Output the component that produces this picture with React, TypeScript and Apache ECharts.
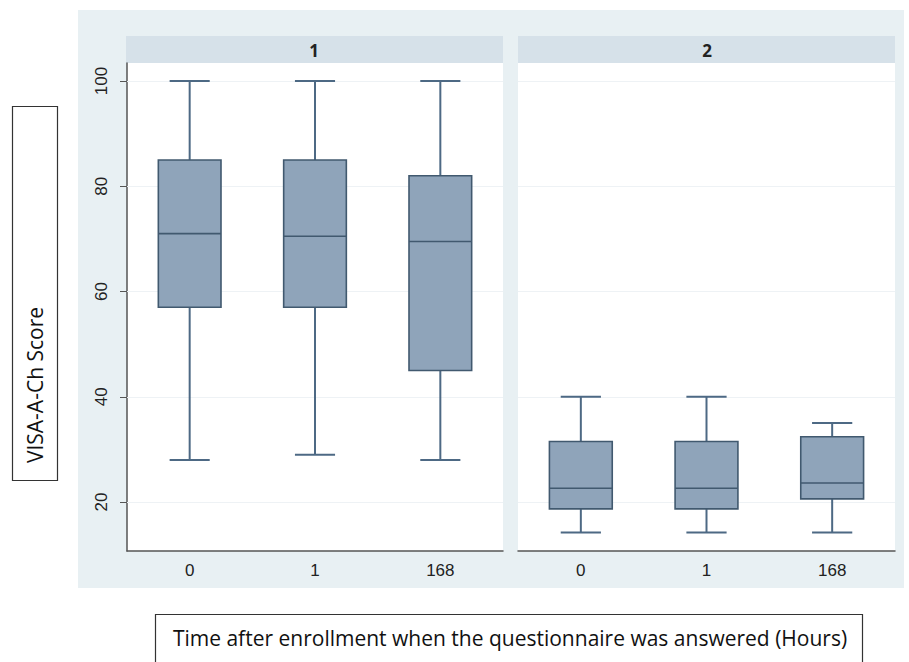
import React, { useEffect, useRef } from "react";
import * as echarts from "echarts";

const categories = ["0", "1", "168"];
const panelLabels = ["1", "2"];
const yTicks = [20, 40, 60, 80, 100];
// [categoryIndex, lowerWhisker, Q1, median, Q3, upperWhisker]
const panel1Boxes = [
  [0, 28, 57, 71, 85, 100],
  [1, 29, 57, 70.5, 85, 100],
  [2, 28, 45, 69.5, 82, 100],
];
const panel2Boxes = [
  [0, 14.2, 18.7, 22.6, 31.5, 40],
  [1, 14.2, 18.7, 22.6, 31.5, 40],
  [2, 14.2, 20.6, 23.6, 32.4, 35],
];
const yTitle = "VISA-A-Ch Score";
const xTitle = "Time after enrollment when the questionnaire was answered (Hours)";

const FILL = "#8fa4ba";
const BORDER = "#41596f";
const WHISK = "#4d6984";

function renderBox(params: any, api: any) {
  const c = api.value(0);
  const lo = api.coord([c, api.value(1)]);
  const q1 = api.coord([c, api.value(2)]);
  const md = api.coord([c, api.value(3)]);
  const q3 = api.coord([c, api.value(4)]);
  const hi = api.coord([c, api.value(5)]);
  const band = api.size([1, 0])[0];
  const bw = band * 0.5;
  const cw = band * 0.32;
  const cx = lo[0];
  const ls = { stroke: WHISK, lineWidth: 2 };
  return {
    type: "group",
    children: [
      { type: "line", shape: { x1: cx, y1: hi[1], x2: cx, y2: q3[1] }, style: ls },
      { type: "line", shape: { x1: cx, y1: q1[1], x2: cx, y2: lo[1] }, style: ls },
      { type: "line", shape: { x1: cx - cw / 2, y1: hi[1], x2: cx + cw / 2, y2: hi[1] }, style: ls },
      { type: "line", shape: { x1: cx - cw / 2, y1: lo[1], x2: cx + cw / 2, y2: lo[1] }, style: ls },
      {
        type: "rect",
        shape: { x: cx - bw / 2, y: q3[1], width: bw, height: q1[1] - q3[1] },
        style: { fill: FILL, stroke: BORDER, lineWidth: 1.6 },
      },
      { type: "line", shape: { x1: cx - bw / 2, y1: md[1], x2: cx + bw / 2, y2: md[1] }, style: { stroke: BORDER, lineWidth: 1.6 } },
    ],
  };
}

export default function App() {
  const ref = useRef<HTMLDivElement>(null);
  useEffect(() => {
    document.body.style.margin = "0";
    const chart = echarts.init(ref.current!, null, { renderer: "svg" });
    const yMin = 10.69;
    const yMax = 103.42;
    const grids = [
      { left: 127, top: 63, width: 376, height: 488 },
      { left: 518, top: 63, width: 377, height: 488 },
    ];
    const gridLines = {
      silent: true,
      symbol: "none",
      z: 1,
      label: { show: false },
      lineStyle: { color: "#eef2f5", width: 1, type: "solid" },
      data: yTicks.map((v) => ({ yAxis: v })),
    };
    const labelFont = { fontSize: 17, color: "#222", fontFamily: "Liberation Sans, Arial" };
    const stripText = (x: number, t: string) => ({
      type: "text",
      x,
      y: 50,
      style: { text: t, fontSize: 17, fontWeight: 700, fill: "#222", fontFamily: "Open Sans", align: "center", verticalAlign: "middle" },
    });
    const option: any = {
      animation: false,
      backgroundColor: "#ffffff",
      grid: grids.map((g) => ({ ...g, show: true, backgroundColor: "#ffffff", borderWidth: 0 })),
      xAxis: [0, 1].map((i) => ({
        type: "category",
        gridIndex: i,
        data: categories,
        axisLine: { show: true, lineStyle: { color: "#555", width: 1.5 } },
        axisTick: { show: false },
        axisLabel: { ...labelFont, margin: 11 },
        splitLine: { show: false },
      })),
      yAxis: [0, 1].map((i) => ({
        type: "value",
        gridIndex: i,
        min: yMin,
        max: yMax,
        show: i === 0,
        axisLine: { show: i === 0, lineStyle: { color: "#555", width: 1.5 } },
        axisTick: { show: true, customValues: yTicks, length: 7, lineStyle: { color: "#555" } },
        axisLabel: {
          show: i === 0,
          customValues: yTicks,
          rotate: 90,
          ...labelFont,
          margin: 17,
        },
        splitLine: { show: false },
      })),
      graphic: [
        { type: "rect", z: -10, shape: { x: 78, y: 10, width: 826, height: 578 }, style: { fill: "#e8f0f3" } },
        { type: "rect", z: -5, shape: { x: 126, y: 36, width: 377, height: 27 }, style: { fill: "#d6e1e9" } },
        { type: "rect", z: -5, shape: { x: 518, y: 36, width: 377, height: 27 }, style: { fill: "#d6e1e9" } },
        stripText(314, panelLabels[0]),
        stripText(707, panelLabels[1]),
        { type: "rect", shape: { x: 12.5, y: 106.5, width: 45, height: 374 }, style: { fill: "#fff", stroke: "#333", lineWidth: 1.2 } },
        {
          type: "text",
          x: 35,
          y: 385,
          rotation: Math.PI / 2,
          style: { text: yTitle, fontSize: 21, fill: "#111", fontFamily: "Open Sans", align: "center", verticalAlign: "middle" },
        },
        { type: "rect", shape: { x: 155.5, y: 614.5, width: 707, height: 60 }, style: { fill: "#fff", stroke: "#333", lineWidth: 1.2 } },
        {
          type: "text",
          x: 510,
          y: 638,
          style: { text: xTitle, fontSize: 21, fill: "#111", fontFamily: "Open Sans", align: "center", verticalAlign: "middle" },
        },
      ],
      series: [
        {
          type: "custom",
          xAxisIndex: 0,
          yAxisIndex: 0,
          z: 3,
          renderItem: renderBox,
          data: panel1Boxes,
          markLine: gridLines,
        },
        {
          type: "custom",
          xAxisIndex: 1,
          yAxisIndex: 1,
          z: 3,
          renderItem: renderBox,
          data: panel2Boxes,
          markLine: gridLines,
        },
      ],
    };
    chart.setOption(option);
    return () => chart.dispose();
  }, []);
  return <div ref={ref} style={{ width: 909, height: 662 }} />;
}
